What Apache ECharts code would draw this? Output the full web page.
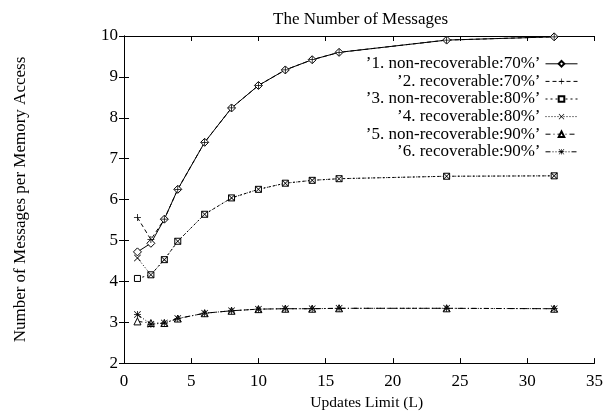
<!DOCTYPE html>
<html>
<head>
<meta charset="utf-8">
<script src="https://cdn.jsdelivr.net/npm/echarts@6/dist/echarts.min.js"></script>
<style>
  html, body { margin: 0; padding: 0; background: #fff; }
  #chart { width: 606px; height: 416px; }
</style>
</head>
<body>
<div id="chart"></div>
<script>
const updatesLimit = [1, 2, 3, 4, 6, 8, 10, 12, 14, 16, 24, 32];
const nonRecov70 = [4.72, 4.93, 5.52, 6.25, 7.40, 8.24, 8.79, 9.17, 9.42, 9.60, 9.90, 9.98];
const recov70 = [5.56, 5.02, 5.52, 6.25, 7.40, 8.24, 8.79, 9.17, 9.42, 9.60, 9.90, 9.98];
const nonRecov80 = [4.07, 4.16, 4.53, 4.98, 5.64, 6.04, 6.25, 6.40, 6.47, 6.51, 6.57, 6.58];
const recov80 = [4.57, 4.16, 4.53, 4.98, 5.64, 6.04, 6.25, 6.40, 6.47, 6.51, 6.57, 6.58];
const nonRecov90 = [3.02, 2.98, 2.98, 3.09, 3.22, 3.28, 3.32, 3.33, 3.33, 3.34, 3.34, 3.33];
const recov90 = [3.19, 2.95, 2.98, 3.09, 3.22, 3.28, 3.32, 3.33, 3.33, 3.34, 3.34, 3.33];
const seriesNames = [
  '’1. non-recoverable:70%’',
  '’2. recoverable:70%’',
  '’3. non-recoverable:80%’',
  '’4. recoverable:80%’',
  '’5. non-recoverable:90%’',
  '’6. recoverable:90%’'
];

const FONT = '"Liberation Serif", "DejaVu Serif", serif';
const plusPath = 'path://M4,0h1v9h-1z M0,4h9v1h-9z';
const crossPath = 'path://M0.7,0L9,8.3L8.3,9L0,0.7z M8.3,0L9,0.7L0.7,9L0,8.3z';
const starPath = 'path://M4,0h1v9h-1z M0,4h9v1h-9z M0.7,0L9,8.3L8.3,9L0,0.7z M8.3,0L9,0.7L0.7,9L0,8.3z';

function makeSeries(name, values, symbol, size, dash, hollow) {
  return {
    name: name,
    type: 'line',
    data: updatesLimit.map((x, i) => [x, values[i]]),
    symbol: symbol,
    symbolSize: size,
    showSymbol: true,
    lineStyle: { color: '#000', width: 1, type: dash },
    itemStyle: hollow
      ? { color: '#fff', borderColor: '#000', borderWidth: 1 }
      : { color: '#000', borderWidth: 0 },
    emphasis: { disabled: true },
    animation: false
  };
}

const chart = echarts.init(document.getElementById('chart'));

const tickLabel = { color: '#000', fontFamily: FONT, fontSize: 17 };
const axisLine = { show: true, lineStyle: { color: '#000', width: 1 } };
const axisTick = { show: true, inside: true, length: 5, lineStyle: { color: '#000' } };

chart.setOption({
  backgroundColor: '#fff',
  title: {
    text: 'The Number of Messages',
    left: 268,
    top: 6,
    textStyle: { fontFamily: FONT, fontSize: 17, fontWeight: 'normal', color: '#000' }
  },
  legend: {
    orient: 'vertical',
    right: 23,
    top: 50,
    align: 'right',
    itemWidth: 32,
    itemHeight: 7,
    itemGap: 0,
    selectedMode: false,
    lineStyle: { width: 1 },
    textStyle: {
      fontFamily: FONT, fontSize: 17, lineHeight: 17.6, color: '#000',
      width: 195, align: 'right'
    },
    data: seriesNames
  },
  grid: { left: 124, right: 9, top: 36, bottom: 44 },
  xAxis: [{
    type: 'value',
    min: 0, max: 35, interval: 5,
    name: 'Updates Limit (L)',
    nameLocation: 'middle',
    nameGap: 22,
    nameTextStyle: { fontFamily: FONT, fontSize: 15.5, color: '#000', padding: [0, 0, 0, 15] },
    axisLine: axisLine,
    axisTick: axisTick,
    axisLabel: Object.assign({ margin: 10 }, tickLabel),
    splitLine: { show: false }
  }, {
    type: 'value',
    position: 'top',
    min: 0, max: 35, interval: 5,
    axisLine: axisLine,
    axisTick: axisTick,
    axisLabel: { show: false },
    splitLine: { show: false }
  }],
  yAxis: [{
    type: 'value',
    min: 2, max: 10, interval: 1,
    name: 'Number of Messages per Memory Access',
    nameLocation: 'middle',
    nameGap: 95,
    nameTextStyle: { fontFamily: FONT, fontSize: 17, color: '#000' },
    axisLine: axisLine,
    axisTick: axisTick,
    axisLabel: Object.assign({ margin: 6 }, tickLabel),
    splitLine: { show: false }
  }, {
    type: 'value',
    position: 'right',
    min: 2, max: 10, interval: 1,
    axisLine: axisLine,
    axisTick: axisTick,
    axisLabel: { show: false },
    splitLine: { show: false }
  }],
  series: [
    makeSeries(seriesNames[0], nonRecov70, 'diamond', 8, 'solid', true),
    makeSeries(seriesNames[1], recov70, plusPath, 7, [4, 3], false),
    makeSeries(seriesNames[2], nonRecov80, 'rect', 6, [2, 3], true),
    makeSeries(seriesNames[3], recov80, crossPath, 7, [1, 2], false),
    makeSeries(seriesNames[4], nonRecov90, 'triangle', 7, [5, 3, 1, 3], true),
    makeSeries(seriesNames[5], recov90, starPath, 7, [5, 2, 1, 2, 1, 2], false)
  ]
});
</script>
</body>
</html>
